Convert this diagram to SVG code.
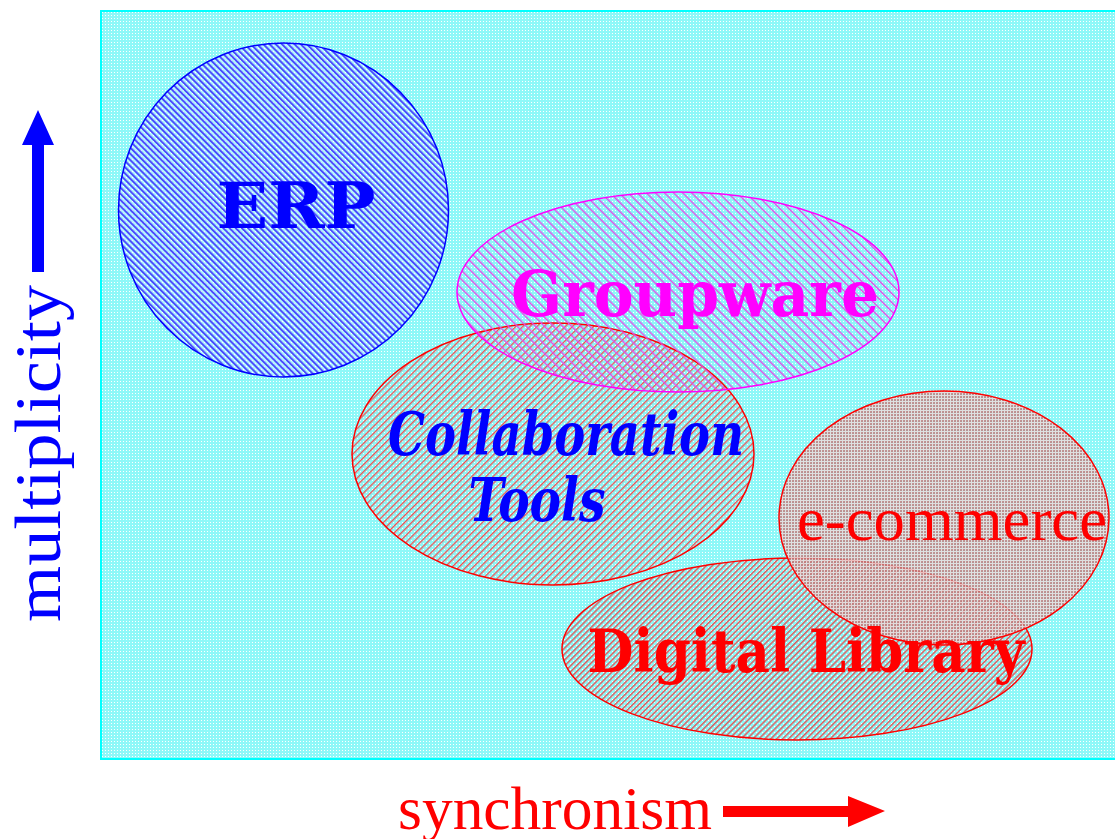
<svg xmlns="http://www.w3.org/2000/svg" width="1115" height="839" viewBox="0 0 1115 839">
<style>
.lbl{font-family:"DejaVu Serif","Liberation Serif",serif;font-weight:bold}
.reg{font-family:"Liberation Serif","DejaVu Serif",serif}
</style>
<defs>
<pattern id="bg" width="3" height="3" patternUnits="userSpaceOnUse">
<rect width="3" height="3" fill="#8ef8f8"/>
<rect width="1" height="1" fill="#ffffff"/>
</pattern>
<pattern id="hErp" width="4.4" height="10" patternUnits="userSpaceOnUse" patternTransform="rotate(-45)">
<rect width="4.4" height="10" fill="#ffffff" fill-opacity="0.35"/>
<rect width="2" height="10" fill="#4a4aff"/>
</pattern>
<pattern id="hGrp" width="6.4" height="10" patternUnits="userSpaceOnUse" patternTransform="rotate(-45)">
<rect width="1.4" height="10" fill="#e050e8"/>
</pattern>
<pattern id="hCol" width="5" height="10" patternUnits="userSpaceOnUse" patternTransform="rotate(45)">
<rect width="1.3" height="10" fill="#f05050"/>
</pattern>
<pattern id="hDL" width="4.2" height="10" patternUnits="userSpaceOnUse" patternTransform="rotate(45)">
<rect width="1.4" height="10" fill="#e05858"/>
</pattern>
<pattern id="dEc" width="3" height="3" patternUnits="userSpaceOnUse">
<rect width="3" height="3" fill="#ecdcdc"/>
<rect width="2" height="2" fill="#c08080"/>
</pattern>
</defs>

<g id="background">
<rect x="101" y="11" width="1020" height="748" fill="url(#bg)" stroke="#00ffff" stroke-width="2"/>
</g>

<g id="erp">
<ellipse cx="283.5" cy="210" rx="165" ry="167" fill="url(#hErp)" stroke="#0000ff" stroke-width="1.5"/>
<text class="lbl" x="296" y="228" font-size="64" fill="#0000ff" text-anchor="middle" textLength="159" lengthAdjust="spacingAndGlyphs">ERP</text>
</g>

<g id="collaboration">
<ellipse cx="553" cy="454" rx="201" ry="131" fill="url(#hCol)" stroke="#ff0000" stroke-width="1.5"/>
</g>

<g id="groupware">
<ellipse cx="678" cy="292" rx="221" ry="100" fill="url(#hGrp)" stroke="#ff00ff" stroke-width="1.5"/>
<text class="lbl" x="695" y="316" font-size="64" fill="#ff00ff" text-anchor="middle" textLength="368" lengthAdjust="spacingAndGlyphs">Groupware</text>
</g>

<g id="collaboration-label">
<text class="lbl" x="566" y="455" font-size="60" font-style="italic" fill="#0000ff" text-anchor="middle" textLength="356" lengthAdjust="spacingAndGlyphs">Collaboration</text>
<text class="lbl" x="537" y="521" font-size="60" font-style="italic" fill="#0000ff" text-anchor="middle" textLength="137" lengthAdjust="spacingAndGlyphs">Tools</text>
</g>

<g id="digital-library">
<ellipse cx="797" cy="649" rx="235" ry="91" fill="url(#hDL)" stroke="#ff0000" stroke-width="1.5"/>
</g>

<g id="e-commerce">
<ellipse cx="944" cy="518" rx="165" ry="127" fill="url(#dEc)" fill-opacity="0.85" stroke="#ff0000" stroke-width="1.5"/>
<text class="reg" x="952" y="540" font-size="62" fill="#ff0000" text-anchor="middle" textLength="310" lengthAdjust="spacingAndGlyphs">e-commerce</text>
</g>

<g id="digital-library-label">
<text class="lbl" x="806" y="672" font-size="60" fill="#ff0000" text-anchor="middle" textLength="437" lengthAdjust="spacingAndGlyphs">Digital Library</text>
</g>

<g id="axes">
<text class="reg" transform="translate(60,622) rotate(-90)" x="0" y="0" font-size="66" fill="#0000ff" textLength="337" lengthAdjust="spacingAndGlyphs">multiplicity</text>
<polygon points="32,272 44,272 44,145 54,145 38,110 22,145 32,145" fill="#0000ff"/>
<text class="reg" x="398" y="829" font-size="62" fill="#ff0000" textLength="314" lengthAdjust="spacingAndGlyphs">synchronism</text>
<polygon points="723,806 848,806 848,796 885,811 848,827 848,817 723,817" fill="#ff0000"/>
</g>
</svg>
